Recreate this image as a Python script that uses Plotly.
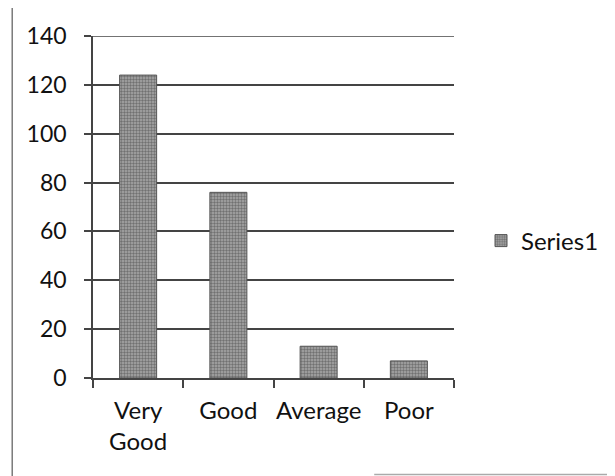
import plotly.graph_objects as go

categories = ["Very<br>Good", "Good", "Average", "Poor"]
values = [124, 76, 13, 7]
y_ticks = [0, 20, 40, 60, 80, 100, 120, 140]

OFF = 8  # page body margin offset
W, H = 615 - OFF, 476 - OFF
L, R = 93 - OFF, 615 - 455
T, B = 36 - OFF, 476 - 378
pw, ph = W - L - R, H - T - B

def px_x(p):
    return (p - OFF - L) / pw

def px_y(p):
    return (T + ph - (p - OFF)) / ph

fig = go.Figure()
fig.add_trace(go.Bar(
    x=categories, y=values, name="Series1",
    marker=dict(color="#7a7a7a", line=dict(color="#555555", width=1),
                pattern=dict(shape=".", fgcolor="#3a3a3a", bgcolor="#a8a8a8", size=3, solidity=0.5)),
    showlegend=True,
))

frame = dict(color="#7a7a7a", width=1.5)
grid = dict(color="#444444", width=1.5)
fig.update_layout(
    width=W, height=H,
    margin=dict(l=L, r=R, t=T, b=B),
    paper_bgcolor="white", plot_bgcolor="white",
    font=dict(family="Lato, Calibri, sans-serif", size=24, color="#111111"),
    bargap=0.59,
    showlegend=True,
    legend=dict(x=px_x(481), y=px_y(241), xanchor="left", yanchor="middle",
                font=dict(size=24), bgcolor="rgba(0,0,0,0)", itemwidth=30),
    xaxis=dict(showline=True, linecolor="#444444", linewidth=1.5,
               ticks="outside", ticklen=8, tickcolor="#444444", tickwidth=1.5,
               tickson="boundaries", showgrid=False, tickfont=dict(size=24),
               tickangle=0, automargin=False, ticklabelstandoff=10),
    yaxis=dict(range=[0, 140], tickvals=y_ticks, showline=True, linecolor="#444444", linewidth=1.5,
               ticks="outside", ticklen=7, tickcolor="#444444", tickwidth=1.5,
               showgrid=True, gridcolor="#444444", gridwidth=1.5, zeroline=False,
               automargin=False, tickfont=dict(size=23), ticklabelstandoff=13),
    shapes=[
        dict(type="line", xref="paper", yref="y", x0=px_x(86), x1=1,
             y0=y_ticks[-1], y1=y_ticks[-1], line=grid, layer="above"),
        dict(type="line", xref="paper", yref="paper", x0=px_x(12), x1=px_x(640),
             y0=px_y(6), y1=px_y(6), line=frame, layer="below"),
        dict(type="line", xref="paper", yref="paper", x0=px_x(12), x1=px_x(12),
             y0=px_y(6), y1=px_y(490), line=frame, layer="below"),
        dict(type="line", xref="paper", yref="paper", x0=px_x(375), x1=px_x(640),
             y0=px_y(474.5), y1=px_y(474.5), line=dict(color="#aaaaaa", width=1.5), layer="below"),
    ],
)

fig.write_html("out.html")
